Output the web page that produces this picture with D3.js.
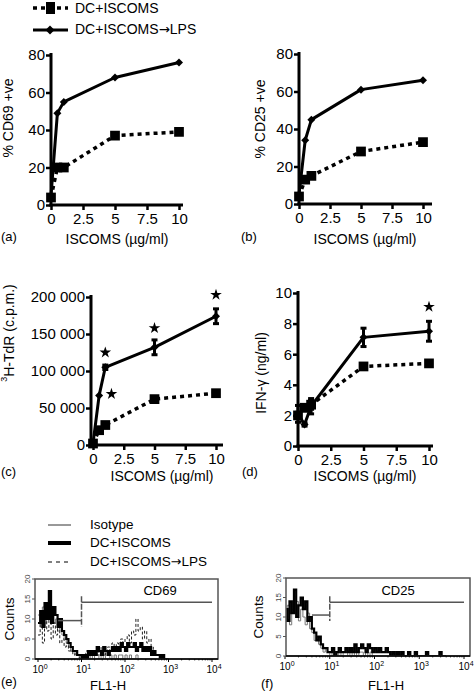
<!DOCTYPE html>
<html><head><meta charset="utf-8">
<script src="https://cdn.jsdelivr.net/npm/d3@7"></script>
<style>
body{margin:0;background:#fff}
svg{display:block}
text{font-family:"Liberation Sans",Arial,Helvetica,sans-serif;fill:#000}
</style>
</head><body>
<svg id="chart" width="474" height="693"></svg>
<script>
// ---------------- DATA ----------------
const doses = [0, 0.5, 1, 5, 10];
const xTickVals = [0, 2.5, 5, 7.5, 10];

const cd69Dc  = [4, 20, 20, 37, 39];
const cd69Lps = [5, 49, 55, 68, 76];

const cd25Dc  = [4, 13, 15, 28, 33];
const cd25Lps = [5, 34, 45, 61, 66];

const tdrDc     = [2000, 20000, 27000, 62000, 70000];
const tdrLps    = [2000, 67000, 105000, 132000, 174000];
const tdrLpsErr = [0, 0, 3000, 10000, 10000];
const tdrStarX  = [1, 1.5, 5, 10];
const tdrStarY  = [125000, 69000, 158000, 203000];

const ifnDc     = [2.0, 2.5, 2.7, 5.2, 5.4];
const ifnDcErr  = [0.2, 0.2, 0.3, 0.15, 0.15];
const ifnLps    = [2.1, 1.4, 2.6, 7.1, 7.5];
const ifnLpsErr = [0.55, 0.1, 0.5, 0.6, 0.65];
const ifnStarX  = [10];
const ifnStarY  = [9.1];

// Histograms: counts per bin, bins of 0.05 log10 units starting at 10^0
const binStep = 0.05;
const histE_iso = [11,8,13,9, 14,10,12,9, 10,7,9,6, 5,4,3,2, 2,1,1,0, 1,0,0,1, 0,1,0,0, 1,0,1,0, 0,1,0,1, 0,1,1,0, 1,0,1,0, 0,1,0,0];
const histE_dc  = [9,12,8,14, 10,17,9,13, 11,8,10,7, 6,5,4,3, 2,2,1,1, 0,1,0,2, 1,2,1,3, 2,1,3,2, 1,2,3,2, 3,2,4,3, 2,4,3,3, 4,2,3,4, 2,3,2,3, 1,2,1,1, 0,1,0,0];
const histE_lps = [6,9,4,11, 7,12,5,9, 6,8,4,5, 3,4,2,2, 1,2,1,0, 1,0,2,1, 2,1,2,1, 2,3,1,2, 3,2,4,3, 4,3,5,4, 5,6,4,7, 6,10,7,8, 5,7,4,5, 3,2,1,1, 0,1,0,0];
const histF_iso = [10,13,8,12, 11,14,9,12, 10,8,11,7, 6,4,5,3, 2,1,2,1, 0,1,1,0, 1,0,1,1, 0,1,0,1, 0,1,1,0, 1,0,1,0];
const histF_dc  = [12,9,14,11, 17,10,13,15, 12,14,9,10, 7,6,4,5, 3,2,2,1, 1,2,0,1, 2,1,1,2, 1,2,1,3, 1,2,3,2, 1,3,2,1, 2,1,2,1, 1,2,1,0, 1,0,1,0, 1,0,0,1, 0,0,1,0, 0,0,0,1, 0,0,0,0, 0,1,0,0];
const gateE = {lo: 2.9, mid: 10, hi: 10000, yLow: 9.6, yHigh: 14.2};
const gateF = {lo: 4.0, mid: 10, hi: 10000, yLow: 10.5, yHigh: 13.8};

// ---------------- DRAW ----------------
const svg = d3.select('#chart');
const FONT_TICK = 15;

function fmtSpace(v){ return d3.format(',')(v).replace(/,/g,' '); }

function arrowText(sel, before, after){
  sel.append('tspan').text(before);
  sel.append('tspan').style('font-family','"DejaVu Sans",sans-serif').attr('font-size','0.95em').text('→');
  sel.append('tspan').text(after);
}

function linePanel(cfg){
  const g = svg.append('g');
  const x = d3.scaleLinear().domain([0,10]).range([cfg.x0, cfg.x1]);
  const y = d3.scaleLinear().domain([0,cfg.ymax]).range([cfg.y0, cfg.y1]);
  g.append('line').attr('x1',cfg.ax).attr('x2',cfg.ax).attr('y1',cfg.y0+1.5).attr('y2',cfg.y1-2)
    .attr('stroke','#000').attr('stroke-width',3);
  g.append('line').attr('x1',cfg.ax-1.5).attr('x2',cfg.xend).attr('y1',cfg.y0).attr('y2',cfg.y0)
    .attr('stroke','#000').attr('stroke-width',3);
  const ya = g.append('g').attr('transform',`translate(${cfg.ax-1},0)`)
    .call(d3.axisLeft(y).tickValues(cfg.yticks).tickSize(4).tickPadding(1).tickFormat(cfg.fmt||(d=>d)));
  const xa = g.append('g').attr('transform',`translate(0,${cfg.y0+1})`)
    .call(d3.axisBottom(x).tickValues(xTickVals).tickSize(4).tickPadding(3).tickFormat(d=>d));
  [ya,xa].forEach(a=>{
    a.select('.domain').remove();
    a.selectAll('line').attr('stroke','#000').attr('stroke-width',2.5);
    a.selectAll('text').attr('font-size',FONT_TICK).attr('fill','#000')
      .style('font-family','"Liberation Sans",Arial,sans-serif');
  });
  const line = d3.line().x((d,i)=>x(doses[i])).y(d=>y(d));
  function errBars(vals, errs){
    vals.forEach((v,i)=>{
      if(!errs[i]) return;
      const cx = x(doses[i]);
      g.append('line').attr('x1',cx).attr('x2',cx).attr('y1',y(v-errs[i])).attr('y2',y(v+errs[i]))
        .attr('stroke','#000').attr('stroke-width',3);
      [v-errs[i], v+errs[i]].forEach(e=>{
        g.append('line').attr('x1',cx-3).attr('x2',cx+3).attr('y1',y(e)).attr('y2',y(e))
          .attr('stroke','#000').attr('stroke-width',3);
      });
    });
  }
  if(cfg.dcErr) errBars(cfg.dc, cfg.dcErr);
  if(cfg.lpsErr) errBars(cfg.lps, cfg.lpsErr);
  g.append('path').attr('d',line(cfg.dc)).attr('fill','none').attr('stroke','#000')
    .attr('stroke-width',3.5).attr('stroke-dasharray','4,4');
  g.append('path').attr('d',line(cfg.lps)).attr('fill','none').attr('stroke','#000')
    .attr('stroke-width',3).attr('stroke-linejoin','round');
  const sq = d3.symbol().type(d3.symbolSquare).size(95);
  const dm = d3.symbol().type(d3.symbolSquare).size(32);
  cfg.dc.forEach((v,i)=>{
    g.append('path').attr('d',sq()).attr('transform',`translate(${x(doses[i])},${y(v)})`).attr('fill','#000');
  });
  cfg.lps.forEach((v,i)=>{
    g.append('path').attr('d',dm()).attr('transform',`translate(${x(doses[i])},${y(v)}) rotate(45)`).attr('fill','#000');
  });
  if(cfg.starX){
    const st = d3.symbol().type(d3.symbolStar).size(42);
    cfg.starX.forEach((sx,i)=>{
      g.append('path').attr('d',st()).attr('transform',`translate(${x(sx)},${y(cfg.starY[i])})`).attr('fill','#000');
    });
  }
  g.append('text').attr('x',cfg.xlabX).attr('y',cfg.xlabY).attr('text-anchor','middle')
    .attr('dominant-baseline','middle').attr('font-size',14).text('ISCOMS (µg/ml)');
  g.append('text').attr('x',cfg.tagX).attr('y',cfg.tagY).attr('dominant-baseline','middle')
    .attr('font-size',13).text(cfg.tag);
  const yl = g.append('text').attr('transform',`translate(${cfg.ylabX},${cfg.ylabY}) rotate(-90)`)
    .attr('text-anchor','middle').attr('dominant-baseline','middle').attr('font-size',14);
  if(cfg.ylabSup){
    yl.append('tspan').attr('font-size',9).attr('dy',-5).text(cfg.ylabSup);
    yl.append('tspan').attr('dy',5).text(cfg.ylab);
  } else yl.text(cfg.ylab);
}

linePanel({x0:51,x1:179,ax:51,xend:183,y0:205,y1:55,ymax:80,yticks:[0,20,40,60,80],
  dc:cd69Dc,lps:cd69Lps,xlabX:117,xlabY:240,tag:'(a)',tagX:1,tagY:238,ylab:'% CD69 +ve',ylabX:9,ylabY:118});
linePanel({x0:299,x1:423,ax:299,xend:432,y0:204,y1:54,ymax:80,yticks:[0,20,40,60,80],
  dc:cd25Dc,lps:cd25Lps,xlabX:365,xlabY:240,tag:'(b)',tagX:241,tagY:238,ylab:'% CD25 +ve',ylabX:261,ylabY:119});
linePanel({x0:93,x1:216,ax:91,xend:223,y0:445,y1:297,ymax:200000,yticks:[0,50000,100000,150000,200000],fmt:fmtSpace,
  dc:tdrDc,lps:tdrLps,lpsErr:tdrLpsErr,starX:tdrStarX,starY:tdrStarY,
  xlabX:162,xlabY:477,tag:'(c)',tagX:1,tagY:473,ylab:'H-TdR (c.p.m.)',ylabSup:'3',ylabX:10,ylabY:333});
linePanel({x0:298,x1:429,ax:298,xend:433,y0:446,y1:293,ymax:10,yticks:[0,2,4,6,8,10],
  dc:ifnDc,dcErr:ifnDcErr,lps:ifnLps,lpsErr:ifnLpsErr,starX:ifnStarX,starY:ifnStarY,
  xlabX:365,xlabY:477,tag:'(d)',tagX:242,tagY:473,ylab:'IFN-γ (ng/ml)',ylabX:262,ylabY:373});

// top legend
(function(){
  const g = svg.append('g');
  g.append('line').attr('x1',33).attr('x2',68).attr('y1',8).attr('y2',8).attr('stroke','#000')
    .attr('stroke-width',3.5).attr('stroke-dasharray','4,4');
  g.append('rect').attr('x',46).attr('y',2).attr('width',9).attr('height',12).attr('fill','#000');
  g.append('text').attr('x',75).attr('y',9).attr('dominant-baseline','middle').attr('font-size',14).text('DC+ISCOMS');
  g.append('line').attr('x1',33).attr('x2',68).attr('y1',30).attr('y2',30).attr('stroke','#000').attr('stroke-width',3);
  g.append('path').attr('d',d3.symbol().type(d3.symbolSquare).size(40)()).attr('transform','translate(50,30) rotate(45)');
  arrowText(g.append('text').attr('x',75).attr('y',30).attr('dominant-baseline','middle').attr('font-size',14), 'DC+ISCOMS', 'LPS');
})();

// histogram panels
function histPanel(cfg){
  const g = svg.append('g');
  const x = d3.scaleLog().domain([1,10000]).range([cfg.x0,cfg.x1]);
  const y = d3.scaleLinear().domain([0,20]).range([cfg.yb,cfg.yt]);
  const clipId = 'clip'+cfg.tag.replace(/\W/g,'');
  g.append('clipPath').attr('id',clipId).append('rect')
    .attr('x',cfg.bx0).attr('y',cfg.yt).attr('width',cfg.bx1-cfg.bx0).attr('height',cfg.yb-cfg.yt);
  const hg = g.append('g').attr('clip-path',`url(#${clipId})`);
  const mk = arr => {
    const pts = arr.map((v,i)=>[Math.pow(10,i*binStep), v]);
    pts.push([Math.pow(10,arr.length*binStep), 0]);
    return d3.line().curve(d3.curveStepAfter).x(d=>x(d[0])).y(d=>y(d[1]))(pts);
  };
  cfg.series.forEach(s=>{
    hg.append('path').attr('d',mk(s.data)).attr('fill','none').attr('stroke',s.color)
      .attr('stroke-width',s.w).attr('stroke-dasharray',s.dash||null);
  });
  g.append('rect').attr('x',cfg.bx0).attr('y',cfg.yt).attr('width',cfg.bx1-cfg.bx0).attr('height',cfg.yb-cfg.yt)
    .attr('fill','none').attr('stroke','#555').attr('stroke-width',1.5);
  g.append('line').attr('x1',cfg.bx0).attr('x2',cfg.bx1).attr('y1',cfg.yb).attr('y2',cfg.yb).attr('stroke','#000').attr('stroke-width',1.5);
  const decades=[1,10,100,1000,10000];
  decades.forEach((d,i)=>{
    g.append('line').attr('x1',x(d)).attr('x2',x(d)).attr('y1',cfg.yb).attr('y2',cfg.yb+3).attr('stroke','#000');
    const t = g.append('text').attr('x',x(d)-5.5).attr('y',cfg.yb+14).attr('text-anchor','start').attr('font-size',10);
    t.append('tspan').text('10');
    t.append('tspan').attr('font-size',7).attr('dy',-4).text(String(i));
  });
  for(let dd=1; dd<10000; dd*=10){
    for(let m=2;m<10;m++){
      g.append('line').attr('x1',x(dd*m)).attr('x2',x(dd*m)).attr('y1',cfg.yb).attr('y2',cfg.yb+1.5).attr('stroke','#000').attr('stroke-width',0.7);
    }
  }
  [0,5,10,15,20].forEach(v=>{
    g.append('line').attr('x1',cfg.bx0-3).attr('x2',cfg.bx0).attr('y1',y(v)).attr('y2',y(v)).attr('stroke','#555');
    g.append('text').attr('transform',`translate(${cfg.bx0-5},${y(v)}) rotate(-90)`).attr('text-anchor','middle')
      .attr('font-size',8).style('fill','#444').text(v);
  });
  const gt = cfg.gate, gc='#555';
  g.append('line').attr('x1',x(gt.lo)).attr('x2',x(gt.mid)).attr('y1',y(gt.yLow)).attr('y2',y(gt.yLow)).attr('stroke',gc).attr('stroke-width',1.5);
  g.append('line').attr('x1',x(gt.mid)).attr('x2',x(gt.hi)).attr('y1',y(gt.yHigh)).attr('y2',y(gt.yHigh)).attr('stroke',gc).attr('stroke-width',1.5);
  g.append('line').attr('x1',x(gt.mid)).attr('x2',x(gt.mid)).attr('y1',y(gt.yHigh)-6).attr('y2',y(gt.yLow)+6)
    .attr('stroke',gc).attr('stroke-width',1.5).attr('stroke-dasharray','6,1.5');
  g.append('text').attr('x',cfg.gateLabX).attr('y',y(gt.yHigh)-11).attr('text-anchor','middle').attr('dominant-baseline','middle')
    .attr('font-size',13).text(cfg.gateLabel);
  g.append('text').attr('transform',`translate(${cfg.countsX},${(cfg.yt+cfg.yb)/2}) rotate(-90)`).attr('text-anchor','middle')
    .attr('dominant-baseline','middle').attr('font-size',13.5).text('Counts');
  g.append('text').attr('x',cfg.flX).attr('y',687).attr('text-anchor','middle').attr('dominant-baseline','middle').attr('font-size',13).text('FL1-H');
  g.append('text').attr('x',cfg.tagX).attr('y',cfg.tagY).attr('dominant-baseline','middle').attr('font-size',13).text(cfg.tag);
}

histPanel({x0:38,x1:212,bx0:35,bx1:218,yt:579,yb:659,gate:gateE,gateLabel:'CD69',gateLabX:160,countsX:10,flX:108,tag:'(e)',tagX:1,tagY:683,
  series:[{data:histE_iso,color:'#777',w:1},{data:histE_lps,color:'#222',w:1,dash:'3,2'},{data:histE_dc,color:'#000',w:2.2}]});
histPanel({x0:285,x1:464,bx0:286,bx1:470,yt:578,yb:656,gate:gateF,gateLabel:'CD25',gateLabX:398,countsX:259,flX:386,tag:'(f)',tagX:261,tagY:685,
  series:[{data:histF_iso,color:'#777',w:1},{data:histF_dc,color:'#000',w:2.2}]});

// legend for e
(function(){
  const g = svg.append('g');
  const rows=[{t:'Isotype',y:525,w:1,c:'#333'},{t:'DC+ISCOMS',y:543,w:4,c:'#000'},{t:'LPS',pre:'DC+ISCOMS',y:562,w:1.2,c:'#000',dash:'4,4'}];
  rows.forEach(r=>{
    g.append('line').attr('x1',48).attr('x2',71).attr('y1',r.y).attr('y2',r.y).attr('stroke',r.c).attr('stroke-width',r.w)
      .attr('stroke-dasharray',r.dash||null);
    const t = g.append('text').attr('x',90).attr('y',r.y).attr('dominant-baseline','middle').attr('font-size',13.5);
    if(r.pre) arrowText(t, r.pre, r.t); else t.text(r.t);
  });
})();
</script>
</body></html>
